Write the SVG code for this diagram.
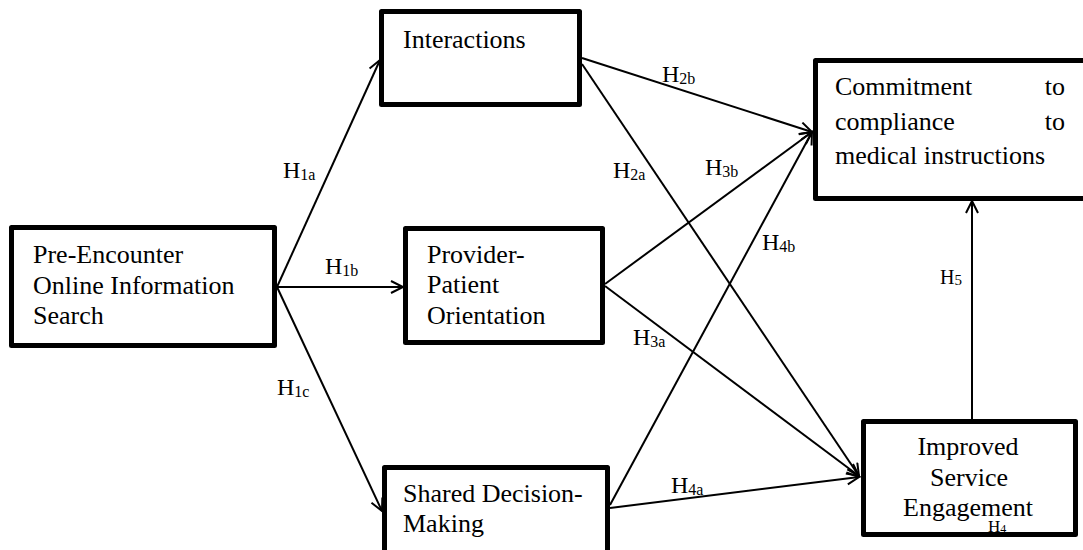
<svg xmlns="http://www.w3.org/2000/svg" width="1083" height="550" viewBox="0 0 1083 550">
<style>
  .box { fill: #ffffff; stroke: #000000; stroke-width: 5; stroke-linejoin: round; }
  .t { font-family: "Liberation Serif", "Times New Roman", serif; font-size: 26px; fill: #000; }
  .h { font-family: "Liberation Serif", "Times New Roman", serif; font-size: 24px; fill: #000; }
  .hs { font-size: 16px; }
  .conn line { stroke: #000; stroke-width: 2; fill: none; marker-end: url(#arr); }
</style>
<defs>
  <marker id="arr" markerUnits="userSpaceOnUse" markerWidth="16" markerHeight="16" refX="13" refY="7" orient="auto">
    <path d="M1,1 L13,7 L1,13" fill="none" stroke="#000" stroke-width="2"/>
  </marker>
</defs>
<rect width="1083" height="550" fill="#ffffff"/>
<g id="connectors" class="conn">
  <line x1="277" y1="287" x2="380" y2="60"/>
  <line x1="277" y1="287" x2="403" y2="287"/>
  <line x1="277" y1="287" x2="382" y2="511"/>
  <line x1="582" y1="58" x2="812" y2="132"/>
  <line x1="582" y1="64" x2="859" y2="476"/>
  <line x1="605" y1="284" x2="812" y2="132"/>
  <line x1="605" y1="286" x2="859" y2="476"/>
  <line x1="610" y1="505" x2="812" y2="132"/>
  <line x1="610" y1="508" x2="859" y2="477"/>
  <line x1="972" y1="419" x2="972" y2="201"/>
</g>
<g id="node-pre">
  <rect class="box" x="11.5" y="227.5" width="263" height="118"/>
  <text class="t" x="33" y="263">Pre-Encounter</text>
  <text class="t" x="33" y="294">Online Information</text>
  <text class="t" x="33" y="324">Search</text>
</g>
<g id="node-interactions">
  <rect class="box" x="381.5" y="11.5" width="198" height="93"/>
  <text class="t" x="403" y="48">Interactions</text>
</g>
<g id="node-provider">
  <rect class="box" x="405.5" y="228.5" width="197" height="114"/>
  <text class="t" x="427" y="263">Provider-</text>
  <text class="t" x="427" y="293">Patient</text>
  <text class="t" x="427" y="324">Orientation</text>
</g>
<g id="node-shared">
  <rect class="box" x="384.5" y="467.5" width="223" height="86"/>
  <text class="t" x="403" y="502">Shared Decision-</text>
  <text class="t" x="403" y="532">Making</text>
</g>
<g id="node-commitment">
  <rect class="box" x="815.5" y="60.5" width="272" height="138"/>
  <text class="t" x="835" y="95">Commitment</text>
  <text class="t" x="1065" y="95" text-anchor="end">to</text>
  <text class="t" x="835" y="130">compliance</text>
  <text class="t" x="1065" y="130" text-anchor="end">to</text>
  <text class="t" x="835" y="164">medical instructions</text>
</g>
<g id="node-improved">
  <rect class="box" x="863.5" y="421.5" width="212" height="113"/>
  <text class="t" x="968" y="455" text-anchor="middle">Improved</text>
  <text class="t" x="969" y="486" text-anchor="middle">Service</text>
  <text class="t" x="968" y="516" text-anchor="middle">Engagement</text>
  <text class="h" x="988" y="532" style="font-size:17px">H<tspan style="font-size:12px" dy="1">4</tspan></text>
</g>
<g id="labels">
  <text class="h" x="283" y="178">H<tspan class="hs" dy="2">1a</tspan></text>
  <text class="h" x="325" y="274">H<tspan class="hs" dy="2">1b</tspan></text>
  <text class="h" x="277" y="395">H<tspan class="hs" dy="2">1c</tspan></text>
  <text class="h" x="662" y="82">H<tspan class="hs" dy="2">2b</tspan></text>
  <text class="h" x="613" y="178">H<tspan class="hs" dy="2">2a</tspan></text>
  <text class="h" x="705" y="175">H<tspan class="hs" dy="2">3b</tspan></text>
  <text class="h" x="762" y="250">H<tspan class="hs" dy="2">4b</tspan></text>
  <text class="h" x="633" y="345">H<tspan class="hs" dy="2">3a</tspan></text>
  <text class="h" x="671" y="493">H<tspan class="hs" dy="2">4a</tspan></text>
  <text class="h" x="940" y="284" style="font-size:20px">H<tspan style="font-size:15px" dy="1">5</tspan></text>
</g>
</svg>
